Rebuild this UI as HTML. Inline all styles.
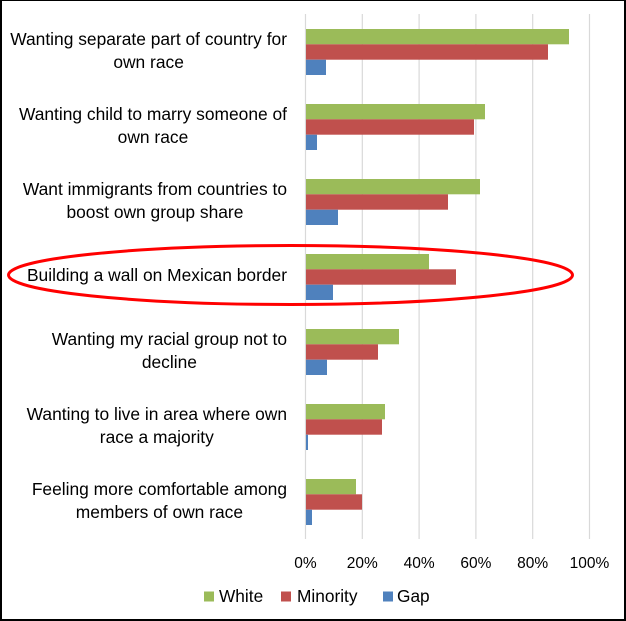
<!DOCTYPE html>
<html>
<head>
<meta charset="utf-8">
<style>
  html, body { margin: 0; padding: 0; background: #fff; }
  #wrap {
    position: relative; width: 626px; height: 621px; overflow: hidden;
    background: #fff; box-sizing: border-box;
    font-family: "Liberation Sans", Arial, sans-serif; color: #000;
  }
  #frame {
    position: absolute; left: 0; top: 0; width: 626px; height: 621px; box-sizing: border-box;
    border-left: 2px solid #000; border-top: 1px solid #000;
    border-right: 2px solid #000; border-bottom: 2px solid #000;
    z-index: 5; pointer-events: none;
  }
  svg { position: absolute; left: 0; top: 0; }
  .lbl {
    position: absolute; right: 339px; text-align: center; white-space: nowrap;
    font-size: 17.4px; line-height: 23px; color: #000; z-index: 2;
  }
</style>
</head>
<body>
<div id="wrap">
  <svg width="626" height="621" viewBox="0 0 626 621" xmlns="http://www.w3.org/2000/svg">
    <g stroke="#D9D9D9" stroke-width="1.2">
      <line x1="305.5" y1="14" x2="305.5" y2="539"/>
      <line x1="362.3" y1="14" x2="362.3" y2="539"/>
      <line x1="419.1" y1="14" x2="419.1" y2="539"/>
      <line x1="475.9" y1="14" x2="475.9" y2="539"/>
      <line x1="532.7" y1="14" x2="532.7" y2="539"/>
      <line x1="589.5" y1="14" x2="589.5" y2="539"/>
    </g>
    <rect x="306" y="29" width="263" height="15.3" fill="#9BBB59"/>
    <rect x="306" y="44.3" width="242" height="15.4" fill="#C0504D"/>
    <rect x="306" y="59.7" width="20" height="15.3" fill="#4F81BD"/>
    <rect x="306" y="104" width="179" height="15.3" fill="#9BBB59"/>
    <rect x="306" y="119.3" width="168" height="15.4" fill="#C0504D"/>
    <rect x="306" y="134.7" width="11" height="15.3" fill="#4F81BD"/>
    <rect x="306" y="179" width="174" height="15.3" fill="#9BBB59"/>
    <rect x="306" y="194.3" width="142" height="15.4" fill="#C0504D"/>
    <rect x="306" y="209.7" width="32" height="15.3" fill="#4F81BD"/>
    <rect x="306" y="254" width="123" height="15.3" fill="#9BBB59"/>
    <rect x="306" y="269.3" width="150" height="15.4" fill="#C0504D"/>
    <rect x="306" y="284.7" width="27" height="15.3" fill="#4F81BD"/>
    <rect x="306" y="329" width="93" height="15.3" fill="#9BBB59"/>
    <rect x="306" y="344.3" width="72" height="15.4" fill="#C0504D"/>
    <rect x="306" y="359.7" width="21" height="15.3" fill="#4F81BD"/>
    <rect x="306" y="404" width="79" height="15.3" fill="#9BBB59"/>
    <rect x="306" y="419.3" width="76" height="15.4" fill="#C0504D"/>
    <rect x="306" y="434.7" width="2" height="15.3" fill="#4F81BD"/>
    <rect x="306" y="479" width="50" height="15.3" fill="#9BBB59"/>
    <rect x="306" y="494.3" width="56" height="15.4" fill="#C0504D"/>
    <rect x="306" y="509.7" width="6" height="15.3" fill="#4F81BD"/>

    <g font-family="Liberation Sans, Arial, sans-serif" font-size="15.5" fill="#000" text-anchor="middle">
      <text x="305.5" y="568">0%</text>
      <text x="362.3" y="568">20%</text>
      <text x="419.1" y="568">40%</text>
      <text x="475.9" y="568">60%</text>
      <text x="532.7" y="568">80%</text>
      <text x="589.5" y="568">100%</text>
    </g>

    <rect x="204" y="591.5" width="10" height="10" fill="#9BBB59"/>
    <rect x="281" y="591.5" width="10" height="10" fill="#C0504D"/>
    <rect x="383" y="591.5" width="10" height="10" fill="#4F81BD"/>
    <g font-family="Liberation Sans, Arial, sans-serif" font-size="17.3" fill="#000">
      <text x="219" y="602">White</text>
      <text x="297" y="602">Minority</text>
      <text x="397" y="602">Gap</text>
    </g>

    <ellipse cx="290.5" cy="275" rx="282" ry="29.5" fill="none" stroke="#FF0000" stroke-width="3"/>
  </svg>

  <div class="lbl" style="top:28.3px;">Wanting separate part of country for<br>own race</div>
  <div class="lbl" style="top:103.3px;">Wanting child to marry someone of<br>own race</div>
  <div class="lbl" style="top:178.3px;">Want immigrants from countries to<br>boost own group share</div>
  <div class="lbl" style="top:264.3px;">Building a wall on Mexican border</div>
  <div class="lbl" style="top:327.8px;">Wanting my racial group not to<br>decline</div>
  <div class="lbl" style="top:402.8px;">Wanting to live in area where own<br>race a majority</div>
  <div class="lbl" style="top:477.8px;">Feeling more comfortable among<br>members of own race</div>

  <div id="frame"></div>
</div>
</body>
</html>
